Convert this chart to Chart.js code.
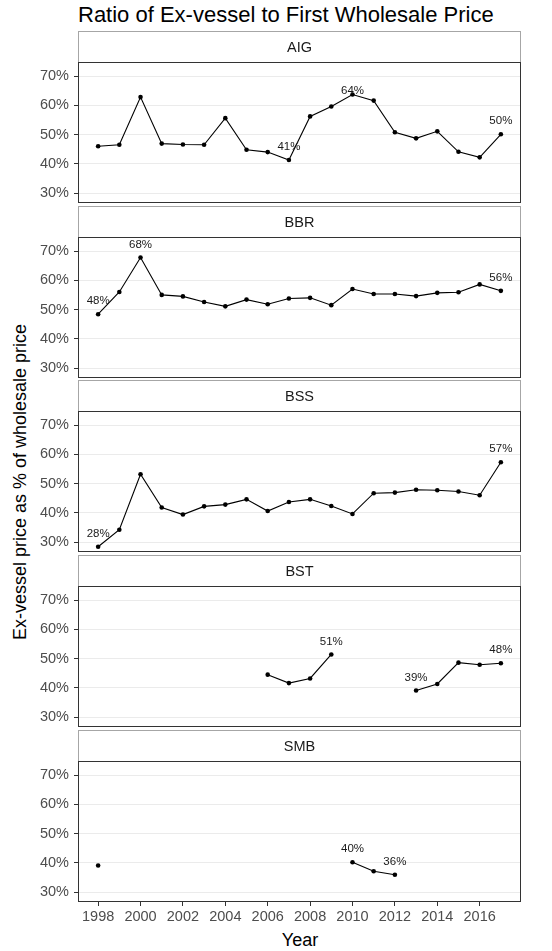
<!DOCTYPE html>
<html>
<head>
<meta charset="utf-8">
<script src="https://cdn.jsdelivr.net/npm/chart.js@4.4.0/dist/chart.umd.min.js"></script>
<style>
  body { margin: 0; background: #fff; font-family: "Liberation Sans", Arial, sans-serif; }
  #wrap { position: relative; width: 552px; height: 951px; overflow: hidden; }
  .panel { position: absolute; left: 0; }
  #title { position: absolute; left: 78px; top: 0; font-size: 22px; line-height: 30px; color: #000; white-space: nowrap; }
  #ytitle { position: absolute; left: 20px; top: 482px; transform: translate(-50%, -50%) rotate(-90deg); font-size: 18px; color: #000; white-space: nowrap; }
  #xtitle { position: absolute; left: 300px; top: 940px; transform: translate(-50%, -50%); font-size: 18px; color: #000; white-space: nowrap; }
</style>
</head>
<body>
<div id="wrap">
  <div id="title">Ratio of Ex-vessel to First Wholesale Price</div>
  <div id="ytitle">Ex-vessel price as % of wholesale price</div>
  <div id="xtitle">Year</div>
</div>
<script>
// Data (percent of first wholesale price)
const years = [1998, 1999, 2000, 2001, 2002, 2003, 2004, 2005, 2006, 2007,
               2008, 2009, 2010, 2011, 2012, 2013, 2014, 2015, 2016, 2017];
const aig = [46.0, 46.5, 62.8, 46.9, 46.6, 46.5, 55.6, 44.8, 44.0, 41.3,
             56.2, 59.6, 63.7, 61.6, 50.8, 48.7, 51.1, 44.1, 42.2, 50.1];
const bbr = [48.4, 56.0, 67.8, 55.0, 54.5, 52.6, 51.1, 53.4, 51.8, 53.8,
             54.0, 51.5, 57.0, 55.3, 55.3, 54.6, 55.7, 55.9, 58.6, 56.4];
const bss = [28.4, 34.2, 53.2, 41.8, 39.4, 42.2, 42.8, 44.6, 40.6, 43.7,
             44.6, 42.3, 39.6, 46.7, 46.9, 47.9, 47.7, 47.3, 46.0, 57.3];
const bst = [null, null, null, null, null, null, null, null, 44.5, 41.6,
             43.2, 51.4, null, null, null, 39.1, 41.3, 48.6, 47.9, 48.4];
const smb = [39.1, null, null, null, null, null, null, null, null, null,
             null, null, 40.2, 37.1, 35.9, null, null, null, null, null];
const categories = ['AIG', 'BBR', 'BSS', 'BST', 'SMB'];
const yTicks = [30, 40, 50, 60, 70];
const xTicks = [1998, 2000, 2002, 2004, 2006, 2008, 2010, 2012, 2014, 2016];
// years that get a value label in each panel
const aigLabeled = [2007, 2010, 2017];
const bbrLabeled = [1998, 2000, 2017];
const bssLabeled = [1998, 2017];
const bstLabeled = [2009, 2013, 2017];
const smbLabeled = [2010, 2012];

const STRIP = 31;
const PANEL = 141;
const EXTRA = 24;
const stripTops = [31, 206, 380, 555, 730];
const FONT = '"Liberation Sans", Arial, sans-serif';

// strip header + panel border
const stripPlugin = {
  id: 'strip',
  afterDraw(chart, args, opts) {
    const ctx = chart.ctx;
    const a = chart.chartArea;
    ctx.save();
    ctx.fillStyle = '#fff';
    ctx.fillRect(a.left, 0, a.right - a.left, STRIP);
    ctx.strokeStyle = '#a6a6a6';
    ctx.lineWidth = 1;
    ctx.strokeRect(a.left + 0.5, 0.5, a.right - a.left - 1, STRIP);
    ctx.fillStyle = '#1a1a1a';
    ctx.font = '14.5px ' + FONT;
    ctx.textAlign = 'center';
    ctx.textBaseline = 'middle';
    ctx.fillText(opts.text, (a.left + a.right) / 2, STRIP / 2 + 1);
    ctx.strokeStyle = '#333';
    ctx.strokeRect(a.left + 0.5, a.top + 0.5, a.right - a.left - 1, a.bottom - a.top - 1);
    ctx.restore();
  }
};

// percent labels above selected points
const labelPlugin = {
  id: 'pctLabels',
  afterDatasetsDraw(chart, args, opts) {
    const ctx = chart.ctx;
    const xs = chart.scales.x, ys = chart.scales.y;
    const vals = chart.data.datasets[0].data;
    ctx.save();
    ctx.fillStyle = '#1a1a1a';
    ctx.font = '11.5px ' + FONT;
    ctx.textAlign = 'center';
    ctx.textBaseline = 'middle';
    opts.years.forEach(yr => {
      const p = vals.find(d => d.x === yr);
      if (!p || p.y == null) return;
      const dy = (opts.near || []).includes(yr) ? 4 : 13;
      ctx.fillText(Math.round(p.y) + '%', xs.getPixelForValue(p.x), ys.getPixelForValue(p.y) - dy);
    });
    ctx.restore();
  }
};

function makePanel(i, values, labeled, near) {
  const isLast = i === categories.length - 1;
  const top = stripTops[i];
  const h = isLast ? 951 - top : STRIP + PANEL + EXTRA;
  const div = document.createElement('div');
  div.className = 'panel';
  div.style.top = top + 'px';
  div.innerHTML = '<canvas width="552" height="' + h + '"></canvas>';
  document.getElementById('wrap').appendChild(div);
  const canvas = div.querySelector('canvas');
  canvas.style.width = '552px';
  canvas.style.height = h + 'px';

  new Chart(canvas, {
    type: 'line',
    data: {
      datasets: [{
        data: years.map((y, k) => ({ x: y, y: values[k] })),
        borderColor: '#000',
        borderWidth: 1.1,
        pointRadius: 2.3,
        pointBackgroundColor: '#000',
        pointBorderWidth: 0,
        spanGaps: false,
        tension: 0
      }]
    },
    options: {
      responsive: false,
      animation: false,
      devicePixelRatio: 1,
      layout: { padding: { top: STRIP, bottom: isLast ? 0 : EXTRA, left: 0, right: 31 } },
      plugins: {
        legend: { display: false },
        tooltip: { enabled: false },
        strip: { text: categories[i] },
        pctLabels: { years: labeled, near: near || [] }
      },
      scales: {
        x: {
          type: 'linear',
          min: 1997.05,
          max: 2017.95,
          display: isLast,
          border: { display: false },
          grid: { drawOnChartArea: false, tickColor: '#333', tickLength: 4 },
          ticks: {
            color: '#4d4d4d',
            font: { size: 14.5, family: FONT },
            padding: 2,
            maxRotation: 0,
            autoSkip: false,
            callback: v => String(v)
          },
          afterBuildTicks: s => { s.ticks = xTicks.map(v => ({ value: v })); },
          afterFit: s => { s.height = isLast ? h - STRIP - PANEL : 0; }
        },
        y: {
          min: 26.6,
          max: 74.8,
          border: { display: false },
          grid: { color: '#ebebeb', lineWidth: 1, tickColor: '#333', tickLength: 4 },
          ticks: {
            color: '#4d4d4d',
            font: { size: 14.5, family: FONT },
            padding: 5,
            callback: v => v + '%'
          },
          afterBuildTicks: s => { s.ticks = yTicks.map(v => ({ value: v })); },
          afterFit: s => { s.width = 78; }
        }
      }
    },
    plugins: [stripPlugin, labelPlugin]
  });
}

makePanel(0, aig, aigLabeled, [2010]);
makePanel(1, bbr, bbrLabeled);
makePanel(2, bss, bssLabeled);
makePanel(3, bst, bstLabeled);
makePanel(4, smb, smbLabeled);
</script>
</body>
</html>
